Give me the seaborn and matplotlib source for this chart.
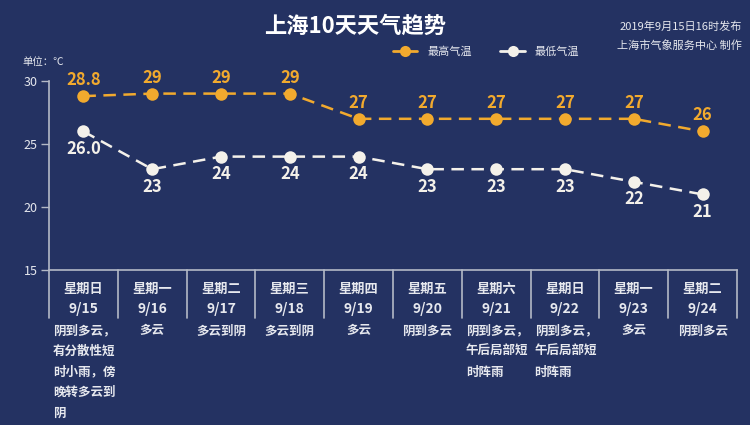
import matplotlib
matplotlib.use("Agg")
import matplotlib.pyplot as plt
import seaborn as sns
import pandas as pd
from matplotlib.lines import Line2D

# ---- data ----
weekdays = ["星期日", "星期一", "星期二", "星期三", "星期四", "星期五", "星期六", "星期日", "星期一", "星期二"]
dates = ["9/15", "9/16", "9/17", "9/18", "9/19", "9/20", "9/21", "9/22", "9/23", "9/24"]
high_temp = [28.8, 29, 29, 29, 27, 27, 27, 27, 27, 26]
low_temp = [26.0, 23, 24, 24, 24, 23, 23, 23, 22, 21]
high_labels = ["28.8", "29", "29", "29", "27", "27", "27", "27", "27", "26"]
low_labels = ["26.0", "23", "24", "24", "24", "23", "23", "23", "22", "21"]
weather = [
    ["阴到多云，", "有分散性短", "时小雨，傍", "晚转多云到", "阴"],
    ["多云"],
    ["多云到阴"],
    ["多云到阴"],
    ["多云"],
    ["阴到多云"],
    ["阴到多云，", "午后局部短", "时阵雨"],
    ["阴到多云，", "午后局部短", "时阵雨"],
    ["多云"],
    ["阴到多云"],
]
yticks = [15, 20, 25, 30]

BG = "#243262"
ORANGE = "#F2AA2E"
WHITE = "#F4F1EA"
GRID = "#B4B9C6"
TXT = "#E6E8EE"

sns.set_theme(style="white")
plt.rcParams["font.family"] = ["Noto Sans CJK SC", "DejaVu Sans"]
plt.rcParams["axes.unicode_minus"] = False

fig = plt.figure(figsize=(7.5, 4.25), dpi=100, facecolor=BG)
W, H = 750, 425
ax_left, ax_right, ax_top, ax_bot = 49, 737, 81, 270
ax = fig.add_axes([ax_left / W, 1 - ax_bot / H, (ax_right - ax_left) / W, (ax_bot - ax_top) / H])
ax.set_facecolor(BG)

n = len(dates)
df = pd.DataFrame({"x": list(range(n)) * 2,
                   "temp": high_temp + low_temp,
                   "series": ["最高气温"] * n + ["最低气温"] * n})

sns.lineplot(data=df, x="x", y="temp", hue="series", palette=[ORANGE, WHITE],
             ax=ax, marker="o", markersize=9, markeredgewidth=0, linewidth=1.8,
             legend=False, clip_on=False)
for line in ax.lines:
    line.set_linestyle((0, (5, 3)))
    line.set_clip_on(False)

ax.set_xlim(-0.5, n - 0.5)
ax.set_ylim(15, 30)
ax.set_xticks([])
ax.set_yticks(yticks)
ax.set_yticklabels([str(t) for t in yticks], color=TXT, fontsize=9)
ax.tick_params(axis="y", length=6, width=1, color=GRID, pad=2, left=True)
ax.set_xlabel("")
ax.set_ylabel("")
for s in ["top", "right"]:
    ax.spines[s].set_visible(False)
for s in ["left", "bottom"]:
    ax.spines[s].set_color(GRID)
    ax.spines[s].set_linewidth(1.2)

# data labels
for i in range(n):
    ax.annotate(high_labels[i], (i, high_temp[i]), xytext=(0, 5), textcoords="offset points",
                ha="center", va="bottom", color=ORANGE, fontsize=12, fontweight="bold")
    ax.annotate(low_labels[i], (i, low_temp[i]), xytext=(0, -6), textcoords="offset points",
                ha="center", va="top", color=WHITE, fontsize=12, fontweight="bold")

# column separators and labels (figure pixel coords)
col_w = (ax_right - ax_left) / n
for k in range(n + 1):
    x = ax_left + k * col_w
    fig.add_artist(Line2D([x / W, x / W], [1 - 270 / H, 1 - 318 / H], color=GRID, lw=1.2))
for i in range(n):
    cx = ax_left + (i + 0.5) * col_w
    fig.text(cx / W, 1 - 289 / H, weekdays[i], ha="center", va="center",
             color=TXT, fontsize=9.5, fontweight="bold")
    fig.text(cx / W, 1 - 309 / H, dates[i], ha="center", va="center",
             color=TXT, fontsize=10, fontweight="bold")
    lines = weather[i]
    for j, t in enumerate(lines):
        y = 1 - (331 + j * 20.5) / H
        if len(lines) > 1:
            fig.text((ax_left + i * col_w + 4) / W, y, t, ha="left", va="center",
                     color=TXT, fontsize=9, fontweight="bold")
        else:
            fig.text(cx / W, y, t, ha="center", va="center",
                     color=TXT, fontsize=9, fontweight="bold")

# title and notes
fig.text(355 / W, 1 - 26 / H, "上海10天天气趋势", ha="center", va="center",
         color="white", fontsize=16, fontweight="bold")
fig.text(742 / W, 1 - 27 / H, "2019年9月15日16时发布", ha="right", va="center",
         color=TXT, fontsize=8)
fig.text(742 / W, 1 - 45 / H, "上海市气象服务中心 制作", ha="right", va="center",
         color=TXT, fontsize=8)
fig.text(22 / W, 1 - 62 / H, "单位：℃", ha="left", va="center", color=TXT, fontsize=7.5)

# legend
handles = [Line2D([], [], color=ORANGE, marker="o", markersize=8, markeredgewidth=0, lw=2),
           Line2D([], [], color=WHITE, marker="o", markersize=8, markeredgewidth=0, lw=2)]
leg = fig.legend(handles, ["最高气温", "最低气温"], loc="center", ncol=2,
                 bbox_to_anchor=(486 / W, 1 - 52 / H), frameon=False, fontsize=8,
                 handlelength=2.2, columnspacing=2.6, handletextpad=0.9)
for t in leg.get_texts():
    t.set_color(TXT)

fig.savefig("out.png", dpi=100, facecolor=BG)
